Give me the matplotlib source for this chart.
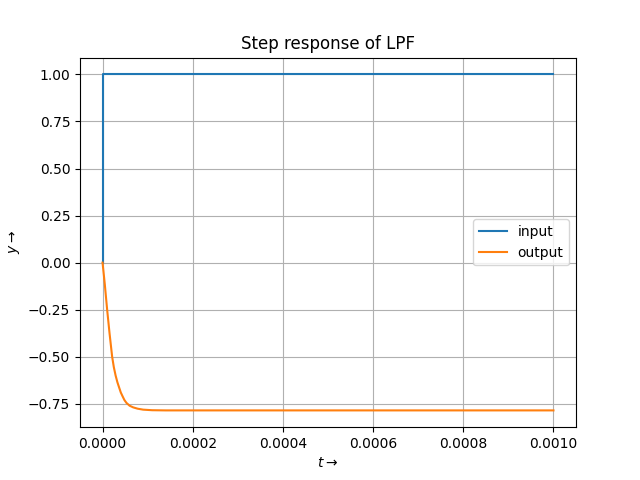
import matplotlib
matplotlib.use('Agg')
import matplotlib.pyplot as plt

# input step
t_in = [0.0, 0.0, 0.001]
y_in = [0.0, 1.0, 1.0]

# output
t_out = [0.0, 0.5e-5, 1.02e-5, 1.55e-5, 2.13e-5, 2.5e-5, 2.9e-5, 3.3e-5,
         3.7e-5, 4.05e-5, 4.44e-5, 4.85e-5, 5.3e-5, 6.0e-5, 6.8e-5, 7.8e-5,
         9.0e-5, 1.1e-4, 1.4e-4, 2.0e-4, 0.001]
y_out = [0.0, -0.115, -0.25, -0.375, -0.5, -0.555, -0.6, -0.636,
         -0.665, -0.69, -0.71, -0.73, -0.745, -0.76, -0.769, -0.776,
         -0.781, -0.784, -0.785, -0.785, -0.785]

plt.figure(figsize=(6.4, 4.8))
plt.plot(t_in, y_in, label='input')
plt.plot(t_out, y_out, label='output')
plt.title('Step response of LPF')
plt.xlabel(r'$t\rightarrow$')
plt.ylabel(r'$y\rightarrow$')
plt.grid()
plt.legend(loc='center right')
plt.savefig('out.png', dpi=100)
